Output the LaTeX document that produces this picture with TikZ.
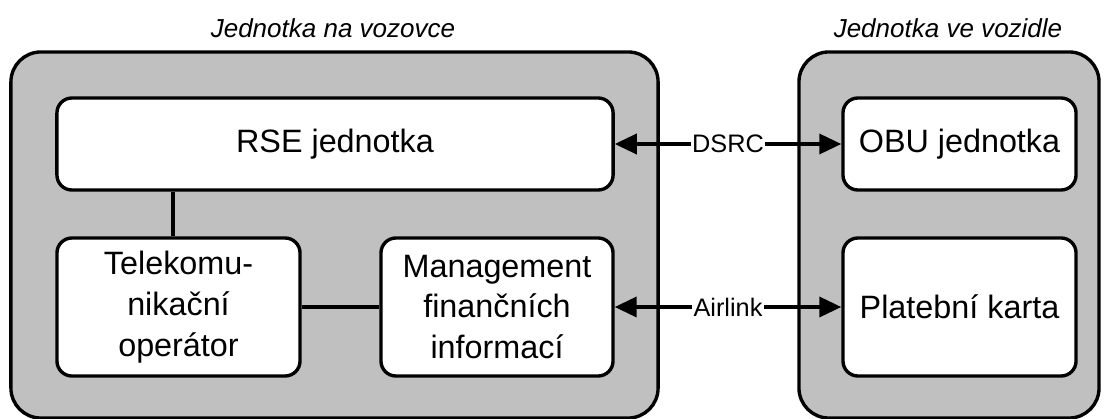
\documentclass[tikz,border=0pt]{standalone}
\usepackage{fontspec}
\setmainfont{Liberation Sans}
\usetikzlibrary{arrows.meta}

\definecolor{boxgray}{HTML}{C0C0C0}

\tikzset{
  unit/.style={draw,fill=boxgray,line width=2.4pt,rounded corners=0.75cm,inner sep=0pt},
  part/.style={draw,fill=white,line width=2.4pt,rounded corners=0.375cm,inner sep=0pt,
    align=center,font=\fontsize{23}{29}\selectfont},
  link/.style={line width=2.6pt},
  radio/.style={line width=2.6pt,{Triangle[length=0.55cm,width=0.5cm]}-{Triangle[length=0.55cm,width=0.5cm]}},
  linklabel/.style={fill=white,inner sep=1pt,font=\fontsize{18}{22}\selectfont},
  title/.style={font=\fontsize{18.5}{22}\selectfont\itshape}
}

\begin{document}
\begin{tikzpicture}[x=0.025cm,y=-0.025cm]
			\useasboundingbox (0,0) rectangle (1110,419);
			% outer units
			\node[unit,minimum width=16.175cm,minimum height=9.15cm] (RoadUnit) at (334.5,235) {};
			\node[unit,minimum width=7.5cm,minimum height=9.15cm] (CarUnit) at (949,235) {};
			\node[title] (RoadTitle) at (333,28) {Jednotka na vozovce};
			\node[title] (CarTitle) at (948,28) {Jednotka ve vozidle};
			
			% parts
			\node[part,minimum width=13.9cm,minimum height=2.3cm] (RSE) at (335,144) {RSE jednotka};
			\node[part,minimum width=5.825cm,minimum height=2.3cm] (OBU) at (959.5,144) {OBU jednotka};
			\node[part,minimum width=6.075cm,minimum height=3.45cm] (Telekom) at (178.5,307) {Telekomu-\\nikační\\operátor};
			\node[part,minimum width=5.8cm,minimum height=3.45cm] (Management) at (497,307) {Management\\finančních\\informací};
			\node[part,minimum width=5.825cm,minimum height=3.45cm] (Karta) at (959.5,307) {Platební karta};
			
			\draw[link] ([xshift=-0.14cm]Telekom.north) -- ([xshift=-0.14cm]Telekom.north |- RSE.south);
			\draw[link] (Telekom) -- (Management);
			\draw[radio] (RSE) -- node[linklabel] (DSRC) {DSRC} (OBU);
			\draw[radio] (Management) -- node[linklabel] (Airlink) {Airlink} (Karta);
\end{tikzpicture}
\end{document}
